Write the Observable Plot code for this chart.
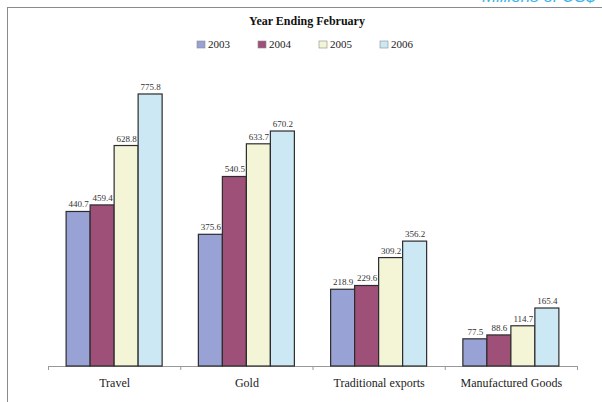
<!DOCTYPE html>
<html>
<head>
<meta charset="utf-8">
<script src="https://cdn.jsdelivr.net/npm/d3@7"></script>
<script src="https://cdn.jsdelivr.net/npm/@observablehq/plot@0.6"></script>
<style>
  html, body { margin: 0; padding: 0; background: #fff; }
  #wrap { position: relative; width: 602px; height: 402px; overflow: hidden; background: #fff; }
  #frame { position: absolute; left: 7px; top: 7px; right: 0; bottom: 0;
           border-top: 1px solid #8a8a8a; border-left: 1px solid #8a8a8a; }
  #units { position: absolute; left: 482px; top: -12px; font: italic 17px/1 "Liberation Sans", sans-serif;
           color: #3ab4e6; white-space: nowrap; }
  #title { position: absolute; left: 0; width: 614px; top: 15px; text-align: center;
           font: bold 12px/1 "Liberation Serif", serif; color: #111; }
  #legend { position: absolute; left: 197px; top: 38px; }
  .yr-swatches { min-height: 0 !important; margin: 0 !important; line-height: 13px; color: #222; }
  .yr-swatch { width: 61px; margin-right: 0 !important; }
  .yr-swatch > svg { margin-right: 3px !important; }
  .yr-swatch rect { stroke: #8a8a8a; stroke-width: 0.6; }
  #chart { position: absolute; left: 0; top: 0; }
</style>
</head>
<body>
<div id="wrap">
  <div id="frame"></div>
  <div id="units">Millions of US$</div>
  <div id="title">Year Ending February</div>
  <div id="legend"></div>
  <div id="chart"></div>
</div>
<script>
// Export earnings by category, year ending February (millions of US$)
const categories = ["Travel", "Gold", "Traditional exports", "Manufactured Goods"];
const years = ["2003", "2004", "2005", "2006"];
const values2003 = [440.7, 375.6, 218.9, 77.5];
const values2004 = [459.4, 540.5, 229.6, 88.6];
const values2005 = [628.8, 633.7, 309.2, 114.7];
const values2006 = [775.8, 670.2, 356.2, 165.4];
const yearColors = ["#99a2d4", "#9e5078", "#f4f4d7", "#cce8f4"];

const series = [values2003, values2004, values2005, values2006];

// Each category occupies one unit on x; four adjacent bars sit centred in it.
const barW = 0.1815;
const groupInset = (1 - years.length * barW) / 2;

const rows = categories.flatMap((category, i) =>
  years.map((year, j) => ({
    category,
    year,
    value: series[j][i],
    x1: i + groupInset + j * barW,
    x2: i + groupInset + (j + 1) * barW
  }))
);

const color = {domain: years, range: yearColors};

const chart = Plot.plot({
  width: 602,
  height: 402,
  marginLeft: 48,
  marginRight: 25,
  marginTop: 85.5,
  marginBottom: 36,
  style: {background: "transparent", fontFamily: "Liberation Serif, serif", color: "#222"},
  x: {domain: [0, categories.length], axis: null},
  y: {domain: [0, 800], axis: null},
  color,
  marks: [
    Plot.ruleY([0], {stroke: "#999", strokeWidth: 1}),
    Plot.axisX({
      ticks: d3.range(categories.length + 1),
      tickSize: 4,
      tickFormat: () => "",
      stroke: "#999"
    }),
    Plot.axisX({
      ticks: categories.map((_, i) => i + 0.5),
      tickSize: 0,
      tickPadding: 11.5,
      fontSize: 12,
      fill: "#222",
      tickFormat: (t) => categories[Math.floor(t)]
    }),
    Plot.rectY(rows, {
      x1: "x1",
      x2: "x2",
      y1: 0,
      y2: "value",
      fill: "year",
      stroke: "#2c2c2c",
      strokeWidth: 1.2
    }),
    Plot.text(rows, {
      x: (d) => (d.x1 + d.x2) / 2,
      y: "value",
      text: (d) => d.value.toFixed(1),
      lineAnchor: "bottom",
      dy: -4.5,
      fontSize: 9,
      fill: "#333"
    })
  ]
});
document.getElementById("chart").appendChild(chart);

const legend = Plot.legend({
  color,
  className: "yr",
  swatchWidth: 8,
  swatchHeight: 7,
  style: {fontFamily: "Liberation Serif, serif", fontSize: "11px"}
});
document.getElementById("legend").appendChild(legend);
</script>
</body>
</html>
